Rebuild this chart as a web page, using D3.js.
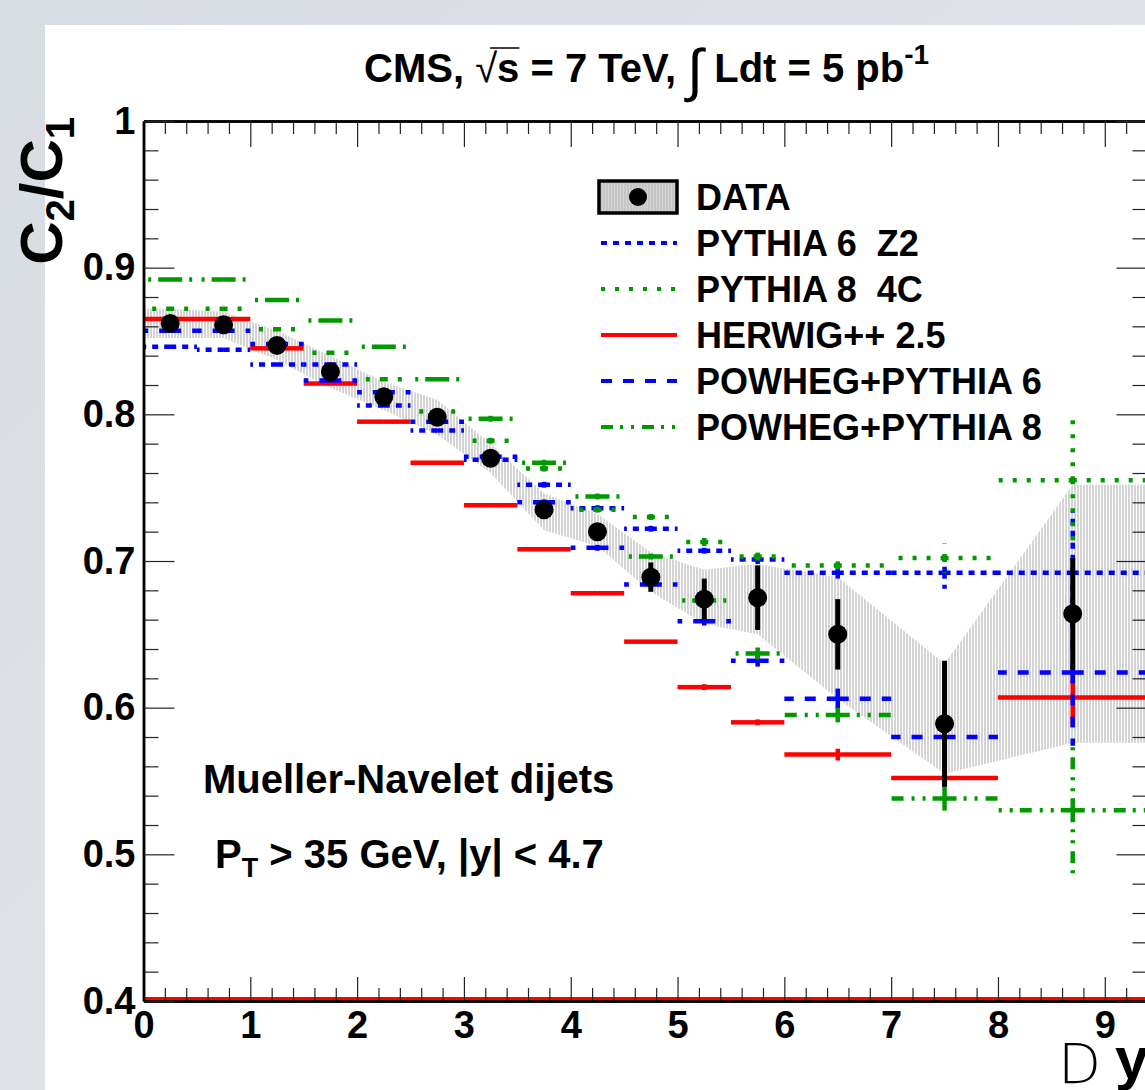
<!DOCTYPE html>
<html><head><meta charset="utf-8">
<script src="https://cdn.jsdelivr.net/npm/d3@7"></script>
<style>html,body{margin:0;padding:0;background:#fff;overflow:hidden}</style>
</head><body>
<svg id="c" width="1145" height="1090"></svg>
<script>
// ---------- data ----------
const binEdges   = [0,0.5,1,1.5,2,2.5,3,3.5,4,4.5,5,5.5,6,7,8,9.4];
const binCenters = [0.25,0.75,1.25,1.75,2.25,2.75,3.25,3.75,4.25,4.75,5.25,5.75,6.5,7.5,8.7];

const dataValues  = [0.862,0.861,0.847,0.829,0.812,0.798,0.770,0.735,0.720,0.689,0.674,0.675,0.650,0.589,0.664];
const dataStatErr = [0.003,0.003,0.003,0.003,0.003,0.003,0.003,0.003,0.004,0.010,0.014,0.022,0.024,0.043,0.038];
const dataSystHigh = [0.872,0.870,0.857,0.840,0.822,0.810,0.780,0.746,0.732,0.706,0.694,0.698,0.689,0.630,0.752];
const dataSystLow  = [0.852,0.852,0.837,0.818,0.803,0.786,0.760,0.721,0.710,0.679,0.657,0.650,0.606,0.555,0.576];

const pythia6Z2     = [0.846,0.844,0.834,0.834,0.806,0.789,0.769,0.752,0.736,0.722,0.707,0.701,0.692,0.692,0.692];
const pythia6Z2Err  = [0.001,0.001,0.001,0.001,0.001,0.001,0.001,0.002,0.002,0.002,0.002,0.003,0.004,0.011,0.042];
const pythia8_4C    = [0.872,0.872,0.858,0.842,0.824,0.802,0.782,0.763,0.735,0.730,0.713,0.703,0.697,0.702,0.755];
const pythia8_4CErr = [0.001,0.001,0.001,0.001,0.001,0.001,0.002,0.002,0.002,0.002,0.003,0.004,0.005,0.010,0.043];
const herwig25      = [0.865,0.865,0.845,0.821,0.795,0.767,0.738,0.708,0.678,0.645,0.614,0.590,0.568,0.552,0.607];
const herwig25Err   = [0.001,0.001,0.001,0.001,0.001,0.001,0.001,0.001,0.001,0.001,0.002,0.002,0.004,0.004,0.020];
const powhegPy6     = [0.857,0.857,0.848,0.823,0.815,0.795,0.771,0.740,0.709,0.684,0.659,0.632,0.606,0.580,0.624];
const powhegPy6Err  = [0.001,0.001,0.001,0.001,0.001,0.001,0.001,0.002,0.002,0.002,0.003,0.004,0.007,0.005,0.050];
const powhegPy8     = [0.892,0.892,0.878,0.864,0.846,0.824,0.797,0.767,0.744,0.703,0.673,0.637,0.595,0.538,0.530];
const powhegPy8Err  = [0.001,0.001,0.001,0.001,0.001,0.001,0.002,0.002,0.002,0.002,0.003,0.004,0.005,0.010,0.045];

const xTickValues = [0,1,2,3,4,5,6,7,8,9];
const yTickValues = [0.4,0.5,0.6,0.7,0.8,0.9,1];
const yTickLabels = ["0.4","0.5","0.6","0.7","0.8","0.9","1"];

const legendLabels = ["DATA","PYTHIA 6  Z2","PYTHIA 8  4C","HERWIG++ 2.5","POWHEG+PYTHIA 6","POWHEG+PYTHIA 8"];

// ---------- setup ----------
const FONT = "'Liberation Sans', Arial, Helvetica, sans-serif";
const svg = d3.select("#c");
const W = 1145, H = 1090;
const x = d3.scaleLinear().domain([0, 9.4]).range([143.5, 1147.5]);
const y = d3.scaleLinear().domain([0.4, 1]).range([1001, 121]);

const defs = svg.append("defs");
const grad = defs.append("linearGradient").attr("id","bg").attr("x1","0").attr("y1","0").attr("x2","1").attr("y2","1");
grad.append("stop").attr("offset","0").attr("stop-color","#d8dce3");
grad.append("stop").attr("offset","1").attr("stop-color","#e6e8ec");
const pat = defs.append("pattern").attr("id","hatch").attr("patternUnits","userSpaceOnUse").attr("width",3).attr("height",10);
pat.append("line").attr("x1",1).attr("x2",1).attr("y1",0).attr("y2",10).attr("stroke","#bdbdbd").attr("stroke-width",1.3);
defs.append("clipPath").attr("id","plotclip").append("rect")
  .attr("x",x(0)).attr("y",y(1)).attr("width",x(9.4)-x(0)).attr("height",y(0.4)-y(1));

// background
svg.append("rect").attr("width",W).attr("height",H).attr("fill","url(#bg)");
svg.append("rect").attr("x",45).attr("y",25).attr("width",W).attr("height",H).attr("fill","#fff");

const plot = svg.append("g").attr("clip-path","url(#plotclip)");

// systematic band
const bandPts = [{x:0, lo:dataSystLow[0], hi:dataSystHigh[0]}]
  .concat(binCenters.map((c,i)=>({x:c, lo:dataSystLow[i], hi:dataSystHigh[i]})))
  .concat([{x:9.4, lo:dataSystLow[14], hi:dataSystHigh[14]}]);
plot.append("path").datum(bandPts)
  .attr("d", d3.area().x(d=>x(d.x)).y0(d=>y(d.lo)).y1(d=>y(d.hi)))
  .attr("fill","url(#hatch)");

// red line along bottom
plot.append("line").attr("x1",x(0)).attr("x2",x(9.4)).attr("y1",y(0.4)-2.5).attr("y2",y(0.4)-2.5)
  .attr("stroke","#ff0000").attr("stroke-width",3);

// MC series
const series = [
  {vals:pythia6Z2, errs:pythia6Z2Err, color:"#0000ff", dash:"6,6"},
  {vals:pythia8_4C, errs:pythia8_4CErr, color:"#009900", dash:"4,10"},
  {vals:herwig25, errs:herwig25Err, color:"#ff0000", dash:null},
  {vals:powhegPy6, errs:powhegPy6Err, color:"#0000ff", dash:"11,11"},
  {vals:powhegPy8, errs:powhegPy8Err, color:"#009900", dash:"12,7,3,8,3,8"}
];
series.forEach(s=>{
  const g = plot.append("g").attr("stroke",s.color).attr("stroke-width",4.5).attr("fill","none");
  if (s.dash) g.attr("stroke-dasharray",s.dash);
  const segs = [];
  s.vals.forEach((v,i)=>{
    const c = binCenters[i];
    segs.push([c,v,binEdges[i],v]);
    segs.push([c,v,binEdges[i+1],v]);
    segs.push([c,v,c,v+s.errs[i]]);
    segs.push([c,v,c,v-s.errs[i]]);
  });
  g.selectAll("line").data(segs).join("line")
    .attr("x1",d=>x(d[0])).attr("y1",d=>y(d[1])).attr("x2",d=>x(d[2])).attr("y2",d=>y(d[3]));
});

// data points
const dg = plot.append("g");
dg.selectAll("line").data(dataValues).join("line")
  .attr("x1",(d,i)=>x(binCenters[i])).attr("x2",(d,i)=>x(binCenters[i]))
  .attr("y1",(d,i)=>y(d-dataStatErr[i])).attr("y2",(d,i)=>y(d+dataStatErr[i]))
  .attr("stroke","#000").attr("stroke-width",5);
dg.selectAll("circle").data(dataValues).join("circle")
  .attr("cx",(d,i)=>x(binCenters[i])).attr("cy",d=>y(d)).attr("r",9.5).attr("fill","#000");

// ---------- axes ----------
function styleAxis(g){
  g.selectAll(".tick line").attr("stroke","#222").attr("stroke-width",1.2);
  g.select(".domain").attr("stroke","#000").attr("stroke-width",2.5);
}
const minorX = d3.range(0, 9.4001, 0.2).map(v=>+v.toFixed(2)).filter(v=>Math.abs(v-Math.round(v))>1e-6);
const minorY = d3.range(0.4, 1.0001, 0.02).map(v=>+v.toFixed(2)).filter(v=>Math.abs(v*10-Math.round(v*10))>1e-6);

// bottom
svg.append("g").attr("transform",`translate(0,${y(0.4)})`)
  .call(d3.axisBottom(x).tickValues(minorX).tickSize(-13).tickSizeOuter(0).tickFormat(""))
  .call(styleAxis);
const xb = svg.append("g").attr("transform",`translate(0,${y(0.4)})`)
  .call(d3.axisBottom(x).tickValues(xTickValues).tickSize(-24).tickSizeOuter(0).tickPadding(10).tickFormat(d3.format("d")))
  .call(styleAxis);
xb.selectAll("text").attr("font-family",FONT).attr("font-weight","bold").attr("font-size",38).attr("fill","#000");
// top
svg.append("g").attr("transform",`translate(0,${y(1)})`)
  .call(d3.axisTop(x).tickValues(minorX).tickSize(-13).tickSizeOuter(0).tickFormat(""))
  .call(styleAxis);
svg.append("g").attr("transform",`translate(0,${y(1)})`)
  .call(d3.axisTop(x).tickValues(xTickValues).tickSize(-26).tickSizeOuter(0).tickFormat(""))
  .call(styleAxis);
// left
svg.append("g").attr("transform",`translate(${x(0)},0)`)
  .call(d3.axisLeft(y).tickValues(minorY).tickSize(-15).tickSizeOuter(0).tickFormat(""))
  .call(styleAxis);
const yl = svg.append("g").attr("transform",`translate(${x(0)},0)`)
  .call(d3.axisLeft(y).tickValues(yTickValues).tickSize(-31).tickSizeOuter(0).tickPadding(8)
        .tickFormat((d,i)=>yTickLabels[i]))
  .call(styleAxis);
yl.selectAll("text").attr("font-family",FONT).attr("font-weight","bold").attr("font-size",38).attr("fill","#000");
// right
svg.append("g").attr("transform",`translate(${x(9.4)},0)`)
  .call(d3.axisRight(y).tickValues(minorY).tickSize(-15).tickSizeOuter(0).tickFormat(""))
  .call(styleAxis);
svg.append("g").attr("transform",`translate(${x(9.4)},0)`)
  .call(d3.axisRight(y).tickValues(yTickValues).tickSize(-31).tickSizeOuter(0).tickFormat(""))
  .call(styleAxis);

// ---------- titles ----------
const title = svg.append("text").attr("x",364).attr("y",82).attr("xml:space","preserve")
  .attr("font-family",FONT).attr("font-weight","bold").attr("font-size",40).attr("fill","#000");
title.append("tspan").text("CMS, ");
title.append("tspan").attr("font-weight","normal").text("\u221A");
const sT = title.append("tspan").text("s");
title.append("tspan").text(" = 7 TeV, ");
title.append("tspan").attr("font-weight","normal").attr("font-size",58).attr("dy",8).text("\u222B");
title.append("tspan").attr("dy",-8).text(" Ldt = 5 pb");
title.append("tspan").attr("font-size",28).attr("dy",-18).text("-1");
{
  const node = title.node();
  const idx = "CMS, \u221A".length;
  const sx0 = node.getStartPositionOfChar(idx-1).x + 15;
  const sx1 = node.getEndPositionOfChar(idx).x;
  svg.append("line").attr("x1",sx0).attr("x2",sx1).attr("y1",48).attr("y2",48)
    .attr("stroke","#000").attr("stroke-width",1.5);
}

// y title
const yt = svg.append("text").attr("transform",`translate(62,117) rotate(-90)`)
  .attr("text-anchor","end").attr("font-family",FONT).attr("font-weight","bold").attr("font-size",60).attr("fill","#000");
yt.append("tspan").text("C");
yt.append("tspan").attr("font-size",40).attr("dy",12).text("2");
yt.append("tspan").attr("dy",-12).text("/C");
yt.append("tspan").attr("font-size",40).attr("dy",12).text("1");

// x title
svg.append("text").attr("x",1058).attr("y",1083).attr("font-family","'DejaVu Sans', sans-serif")
  .attr("font-weight",200).attr("font-size",56).attr("fill","#000").text("D");
svg.append("text").attr("x",1115).attr("y",1079).attr("font-family",FONT)
  .attr("font-weight","bold").attr("font-size",60).attr("fill","#000").text("y");

// annotations
svg.append("text").attr("x",203).attr("y",793).attr("font-family",FONT).attr("font-weight","bold")
  .attr("font-size",40).attr("fill","#000").text("Mueller-Navelet dijets");
const pt = svg.append("text").attr("x",215).attr("y",868).attr("font-family",FONT).attr("font-weight","bold")
  .attr("font-size",40).attr("fill","#000");
pt.append("tspan").text("P");
pt.append("tspan").attr("font-size",27).attr("dy",9).text("T");
pt.append("tspan").attr("dy",-9).text(" > 35 GeV, |y| < 4.7");

// ---------- legend ----------
const legRows = [197,243,289,335,381,427];
const lg = svg.append("g");
lg.append("rect").attr("x",599).attr("y",181).attr("width",78).attr("height",32).attr("fill","#d4d4d4");
lg.append("rect").attr("x",599).attr("y",181).attr("width",78).attr("height",32)
  .attr("fill","url(#hatch)").attr("stroke","#000").attr("stroke-width",3.5);
lg.append("circle").attr("cx",638).attr("cy",197).attr("r",9).attr("fill","#000");
series.forEach((s,i)=>{
  const l = lg.append("line").attr("x1",601).attr("x2",677).attr("y1",legRows[i+1]).attr("y2",legRows[i+1])
    .attr("stroke",s.color).attr("stroke-width",4);
  if (s.dash) l.attr("stroke-dasharray",s.dash);
});
lg.selectAll("text.lab").data(legendLabels).join("text").attr("class","lab")
  .attr("x",696).attr("y",(d,i)=>legRows[i]+13).attr("xml:space","preserve")
  .attr("font-family",FONT).attr("font-weight","bold").attr("font-size",36).attr("fill","#000")
  .text(d=>d);
</script>
</body></html>
